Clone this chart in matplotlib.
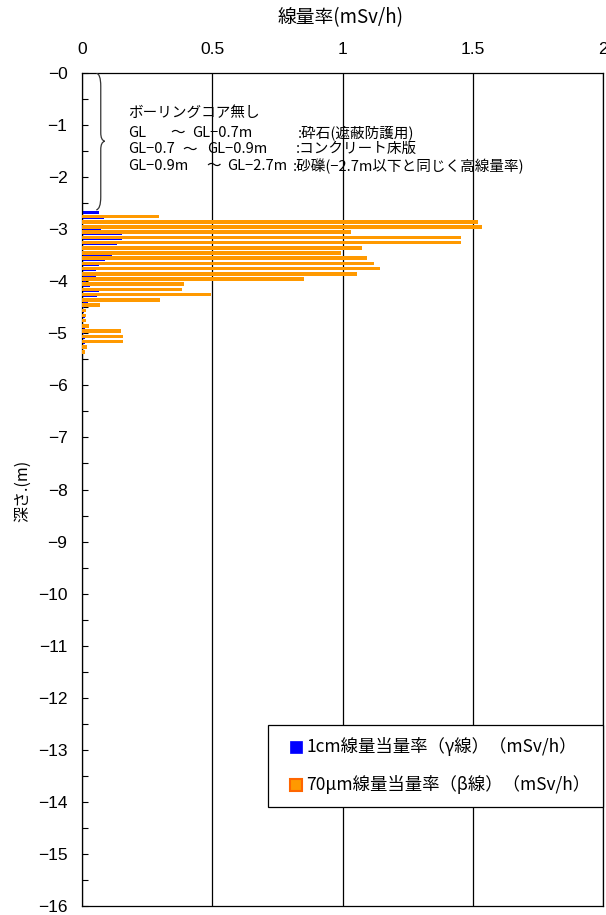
import matplotlib
matplotlib.use('Agg')
import matplotlib.pyplot as plt
from matplotlib.patches import Rectangle, PathPatch
from matplotlib.path import Path
from matplotlib.ticker import MultipleLocator, FixedLocator

plt.rcParams['font.family'] = ['Noto Sans CJK JP', 'DejaVu Sans']

# 深さ(m) 0.1m毎の区間
depth = [-2.7, -2.8, -2.9, -3.0, -3.1, -3.2, -3.3, -3.4, -3.5, -3.6,
         -3.7, -3.8, -3.9, -4.0, -4.1, -4.2, -4.3, -4.4, -4.5, -4.6,
         -4.7, -4.8, -4.9, -5.0, -5.1, -5.2, -5.3]
# 1cm線量当量率（γ線）(mSv/h)
gamma = [0.064, 0.085, 0.074, 0.074, 0.155, 0.155, 0.136, 0.114, 0.114, 0.090,
         0.064, 0.055, 0.055, 0.017, 0.030, 0.064, 0.059, 0.023, 0.008, 0.008,
         0.010, 0.003, 0.012, 0.008, 0.010, 0.010, 0.010]
# 70μm線量当量率（β線）(mSv/h)
beta = [0.294, 1.522, 1.535, 1.034, 1.454, 1.454, 1.075, 0.995, 1.094, 1.120,
        1.145, 1.055, 0.854, 0.392, 0.382, 0.494, 0.300, 0.068, 0.014, 0.017,
        0.017, 0.027, 0.148, 0.159, 0.159, 0.020, 0.010]

x_ticks = [0, 0.5, 1, 1.5, 2]
x_labels = ['0', '0.5', '1', '1.5', '2']
y_ticks = list(range(-16, 1))

fig = plt.figure(figsize=(6.06, 9.15), dpi=100)
ax = fig.add_axes([82 / 606, 1 - 906 / 915, 521 / 606, 833 / 915])

# 棒グラフ（γ線を下、β線を上に重ねる）
ax.barh([d + 0.022 for d in depth], gamma, height=0.062, color='#0000ff', lw=0, zorder=2)
ax.barh([d - 0.058 for d in depth], beta, height=0.068, color='#ff9900', lw=0, zorder=3)

ax.set_xlim(0, 2)
ax.set_ylim(-16, 0)
ax.xaxis.tick_top()
ax.xaxis.set_major_locator(FixedLocator(x_ticks))
ax.set_xticklabels(x_labels, family='Liberation Sans', fontsize=12.5)
ax.tick_params(axis='x', length=0, pad=11.5)

ax.set_yticks(y_ticks)
ax.set_yticklabels(['\u2212%d' % abs(v) for v in y_ticks], family='Liberation Sans', fontsize=12.5)
ax.yaxis.set_minor_locator(MultipleLocator(0.5))
ax.tick_params(axis='y', which='both', direction='in', length=4.3, width=0.8, pad=10.5)

ax.grid(axis='x', color='black', lw=0.9)
ax.set_axisbelow(True)
for s in ax.spines.values():
    s.set_color('black')
    s.set_linewidth(0.9)

fig.text(341 / 606, 1 - 18 / 915, '線量率(mSv/h)', ha='center', va='center', fontsize=13.5)
fig.text(23 / 606, 1 - 491 / 915, '深さ.(m)', ha='center', va='center', rotation=90, fontsize=11.5)

# 中括弧（ボーリングコア無し区間）
verts = [(0.055, 0.0), (0.072, -0.02), (0.072, -0.25), (0.072, -1.15),
         (0.072, -1.29), (0.087, -1.31), (0.072, -1.33), (0.072, -1.47),
         (0.072, -2.38), (0.072, -2.61), (0.055, -2.63)]
codes = [Path.MOVETO, Path.CURVE3, Path.CURVE3, Path.LINETO,
         Path.CURVE3, Path.CURVE3, Path.CURVE3, Path.CURVE3,
         Path.LINETO, Path.CURVE3, Path.CURVE3]
ax.add_patch(PathPatch(Path(verts, codes), fill=False, edgecolor='#333333', lw=0.9, zorder=4))

# 注記
fs = 10.5
ax.text(0.177, -0.768, 'ボーリングコア無し', fontsize=fs, va='center')
rows = [(-1.152, 'GL', 0.339, 'GL\u22120.7m', 0.423, ':砕石(遮蔽防護用)', 0.828),
        (-1.468, 'GL\u22120.7', 0.384, 'GL\u22120.9m', 0.481, ':コンクリート床版', 0.821),
        (-1.785, 'GL\u22120.9m', 0.478, 'GL\u22122.7m', 0.558, ':砂礫(\u22122.7m以下と同じく高線量率)', 0.808)]
for y, a, xw, b, xb, c, xc in rows:
    ax.text(0.177, y, a, fontsize=fs, va='center')
    ax.text(xw, y, '～', fontsize=fs, va='center')
    ax.text(xb, y, b, fontsize=fs, va='center')
    ax.text(xc, y, c, fontsize=fs, va='center')

# 凡例（枠・色見本・文字）
def px(x, y):
    return (x - 82) / 521, (906 - y) / 833

labels = ['1cm線量当量率（γ線）（mSv/h）', '70μm線量当量率（β線）（mSv/h）']
ax.add_patch(Rectangle(px(268, 807), 335 / 521, 82 / 833, transform=ax.transAxes,
                       facecolor='white', edgecolor='black', lw=0.9, zorder=10, clip_on=False))
ax.add_patch(Rectangle(px(290, 753), 12 / 521, 12 / 833, transform=ax.transAxes,
                       facecolor='#0000ff', edgecolor='#0000ff', lw=0.5, zorder=11))
ax.add_patch(Rectangle(px(290, 791), 12 / 521, 12 / 833, transform=ax.transAxes,
                       facecolor='#ff9900', edgecolor='#ff6600', lw=1.5, zorder=11))
ax.text(*px(306, 747), labels[0], transform=ax.transAxes, fontsize=12.5, va='center', zorder=12)
ax.text(*px(306, 785), labels[1], transform=ax.transAxes, fontsize=12.5, va='center', zorder=12)

fig.savefig('out.png', dpi=100)
